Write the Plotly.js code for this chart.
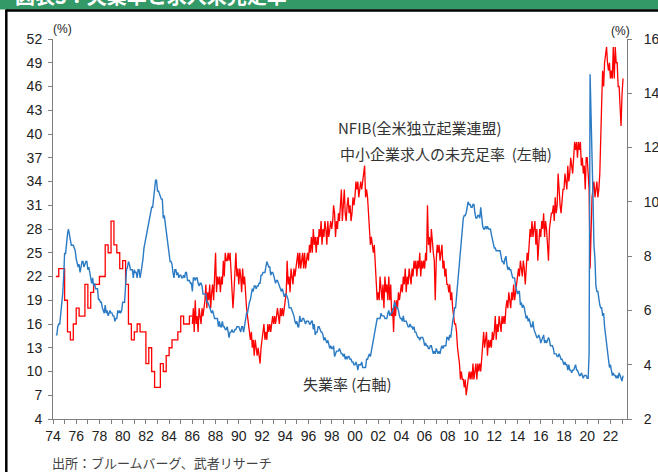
<!DOCTYPE html>
<html>
<head>
<meta charset="utf-8">
<script src="https://cdn.plot.ly/plotly-3.0.1.min.js"></script>
<style>
html,body{margin:0;padding:0;background:#fff;}
#chart{width:658px;height:472px;}
</style>
</head>
<body>
<div id="chart"></div>
<script>
// ---------- DATA ----------
// NFIB: share of small firms with unfilled job openings (%), left axis
// Quarterly, 1974-Q2 .. 1985-Q4
const nfibQuarterlyStart = [1974, 4];
const nfibQuarterly = [
  22,23,23,
  19,15,14,16,
  18,17,17,21,
  18,20,21,21,
  22,22,26,25,
  29,26,25,23,
  24,21,16,14,
  15,16,15,15,
  11,13,10,8,
  8,11,10,12,
  13,14,14,15,
  17,16,16,17
];
// Monthly, 1986-01 .. 2023-02
const nfibMonthlyStart = [1986, 1];
const nfibMonthly = [
  16,18,15,19,16,17,15,18,17,16,18,17, // 1986
  18,19,21,18,20,19,21,18,20,21,19,22, // 1987
  25,20,22,21,22,20,22,21,24,22,25,24, // 1988
  24,25,24,25,22,19,18,20,23,25,22,23, // 1989
  21,23,22,20,23,21,22,19,18,17,16,15, // 1990
  14,15,13,14,12,14,13,12,13,12,11,13, // 1991
  14,15,16,14,15,14,16,15,16,15,16,17, // 1992
  16,17,16,17,18,17,16,18,17,18,17,18, // 1993
  19,20,24,21,22,20,23,22,21,23,22,23, // 1994
  24,25,23,25,23,24,25,23,25,23,24,25, // 1995
  24,26,25,27,25,28,26,27,25,27,26,28, // 1996
  27,29,26,28,27,29,28,26,29,27,28,29, // 1997
  28,29,31,30,27,29,28,30,29,31,33,29, // 1998
  32,33,30,29,31,32,30,31,29,30,32,31, // 1999
  32,34,33,34,32,33,34,33,34,35,36,32, // 2000
  33,32,30,27,26,27,26,25,26,23,20,19, // 2001
  20,19,22,20,19,21,18,22,20,21,19,22, // 2002
  19,21,17,18,15,19,17,19,18,20,19,20, // 2003
  21,20,22,21,23,20,22,21,23,22,21,23, // 2004
  22,24,23,24,22,24,23,25,22,24,23,24, // 2005
  23,25,24,31,26,27,25,28,26,25,24,19, // 2006
  24,26,25,26,24,25,26,23,24,22,23,21, // 2007
  21,20,21,19,20,18,17,16,16,15,13,12, // 2008
  11,9,10,9,9,8,9,7,8,9,10,9,          // 2009
  10,9,11,9,10,11,9,11,10,11,10,12,    // 2010
  13,15,13,14,15,12,14,13,14,13,15,14, // 2011
  15,17,14,16,15,17,16,15,17,16,17,16, // 2012
  18,19,18,20,19,18,20,19,21,19,20,21, // 2013
  22,23,22,24,23,22,24,23,21,24,25,24, // 2014
  26,28,27,29,27,28,29,26,28,24,27,28, // 2015
  27,29,28,30,27,29,28,26,24,28,29,30, // 2016
  30,31,29,32,30,31,35,32,31,30,32,33, // 2017
  33,35,34,33,36,34,35,37,36,35,37,39, // 2018
  38,39,37,39,38,39,36,37,35,36,33,37, // 2019
  37,35,33,23,28,32,33,34,32,33,34,32, // 2020
  33,35,42,44,48,46,49,50,51,49,48,49, // 2021
  47,48,47,51,47,51,49,49,46,46,44,41, // 2022
  45,47                                // 2023
];
// US unemployment rate (%), right axis, monthly 1974-04 .. 2023-02
const unempStart = [1974, 4];
const unemp = [
  5.1,5.1,5.4,5.5,5.5,5.9,6.0,6.6,7.2,                 // 1974
  8.1,8.1,8.6,8.8,9.0,8.8,8.6,8.4,8.4,8.4,8.3,8.2,     // 1975
  7.9,7.7,7.6,7.7,7.4,7.6,7.8,7.8,7.6,7.7,7.8,7.8,     // 1976
  7.5,7.6,7.4,7.2,7.0,7.2,6.9,7.0,6.8,6.8,6.8,6.4,     // 1977
  6.4,6.3,6.3,6.1,6.0,5.9,6.2,5.9,6.0,5.8,5.9,6.0,     // 1978
  5.9,5.9,5.8,5.8,5.6,5.7,5.7,6.0,5.9,6.0,5.9,6.0,     // 1979
  6.3,6.3,6.3,6.9,7.5,7.6,7.8,7.7,7.5,7.5,7.5,7.2,     // 1980
  7.5,7.4,7.4,7.2,7.5,7.5,7.2,7.4,7.6,7.9,8.3,8.5,     // 1981
  8.6,8.9,9.0,9.3,9.4,9.6,9.8,9.8,10.1,10.4,10.8,10.8, // 1982
  10.4,10.4,10.3,10.2,10.1,10.1,9.4,9.5,9.2,8.8,8.5,8.3, // 1983
  8.0,7.8,7.8,7.7,7.4,7.2,7.5,7.5,7.3,7.4,7.2,7.3,     // 1984
  7.3,7.2,7.2,7.3,7.2,7.4,7.4,7.1,7.1,7.1,7.0,7.0,     // 1985
  6.7,7.2,7.2,7.1,7.2,7.2,7.0,6.9,7.0,7.0,6.9,6.6,     // 1986
  6.6,6.6,6.6,6.3,6.3,6.2,6.1,6.0,5.9,6.0,5.8,5.7,     // 1987
  5.7,5.7,5.7,5.4,5.6,5.4,5.4,5.6,5.4,5.4,5.3,5.3,     // 1988
  5.4,5.2,5.0,5.2,5.2,5.3,5.2,5.2,5.3,5.3,5.4,5.4,     // 1989
  5.4,5.3,5.2,5.4,5.4,5.2,5.5,5.7,5.9,5.9,6.2,6.3,     // 1990
  6.4,6.6,6.8,6.7,6.9,6.9,6.8,6.9,6.9,7.0,7.0,7.3,     // 1991
  7.3,7.4,7.4,7.4,7.6,7.8,7.7,7.6,7.6,7.3,7.4,7.4,     // 1992
  7.3,7.1,7.0,7.1,7.1,7.0,6.9,6.8,6.7,6.8,6.6,6.5,     // 1993
  6.6,6.6,6.5,6.4,6.1,6.1,6.1,6.0,5.9,5.8,5.6,5.5,     // 1994
  5.6,5.4,5.4,5.8,5.6,5.6,5.7,5.7,5.6,5.5,5.6,5.6,     // 1995
  5.6,5.5,5.5,5.6,5.6,5.3,5.5,5.1,5.2,5.2,5.4,5.4,     // 1996
  5.3,5.2,5.2,5.1,4.9,5.0,4.9,4.8,4.9,4.7,4.6,4.7,     // 1997
  4.6,4.6,4.7,4.3,4.4,4.5,4.5,4.5,4.6,4.5,4.4,4.4,     // 1998
  4.3,4.4,4.2,4.3,4.2,4.3,4.3,4.2,4.2,4.1,4.1,4.0,     // 1999
  4.0,4.1,4.0,3.8,4.0,4.0,4.0,4.1,3.9,3.9,3.9,3.9,     // 2000
  4.2,4.2,4.3,4.4,4.3,4.5,4.6,4.9,5.0,5.3,5.5,5.7,     // 2001
  5.7,5.7,5.7,5.9,5.8,5.8,5.8,5.7,5.7,5.7,5.9,6.0,     // 2002
  5.8,5.9,5.9,6.0,6.1,6.3,6.2,6.1,6.1,6.0,5.8,5.7,     // 2003
  5.7,5.6,5.8,5.6,5.6,5.6,5.5,5.4,5.4,5.5,5.4,5.4,     // 2004
  5.3,5.4,5.2,5.2,5.1,5.0,5.0,4.9,5.0,5.0,5.0,4.9,     // 2005
  4.7,4.8,4.7,4.7,4.6,4.6,4.7,4.7,4.5,4.4,4.5,4.4,     // 2006
  4.6,4.5,4.4,4.5,4.4,4.6,4.7,4.6,4.7,4.7,4.7,5.0,     // 2007
  5.0,4.9,5.1,5.0,5.4,5.6,5.8,6.1,6.1,6.5,6.8,7.3,     // 2008
  7.8,8.3,8.7,9.0,9.4,9.5,9.5,9.6,9.8,10.0,9.9,9.9,    // 2009
  9.8,9.8,9.9,9.9,9.6,9.4,9.4,9.5,9.5,9.4,9.8,9.3,     // 2010
  9.1,9.0,9.0,9.1,9.0,9.1,9.0,9.0,9.0,8.8,8.6,8.5,     // 2011
  8.3,8.3,8.2,8.2,8.2,8.2,8.2,8.0,7.8,7.8,7.7,7.9,     // 2012
  8.0,7.7,7.5,7.6,7.5,7.5,7.3,7.2,7.2,7.2,6.9,6.7,     // 2013
  6.6,6.7,6.7,6.2,6.3,6.1,6.2,6.1,5.9,5.7,5.8,5.6,     // 2014
  5.7,5.5,5.4,5.4,5.6,5.3,5.2,5.1,5.0,5.0,5.1,5.0,     // 2015
  4.8,4.9,5.0,5.1,4.8,4.9,4.8,4.9,5.0,4.9,4.7,4.7,     // 2016
  4.7,4.6,4.4,4.4,4.4,4.3,4.3,4.4,4.3,4.2,4.2,4.1,     // 2017
  4.0,4.1,4.0,4.0,3.8,4.0,3.8,3.8,3.7,3.8,3.8,3.9,     // 2018
  4.0,3.8,3.8,3.7,3.6,3.6,3.7,3.6,3.5,3.6,3.6,3.6,     // 2019
  3.5,3.5,4.4,14.7,13.2,11.0,10.2,8.4,7.9,6.9,6.7,6.7, // 2020
  6.4,6.2,6.1,6.1,5.8,5.9,5.4,5.1,4.7,4.5,4.2,3.9,     // 2021
  4.0,3.8,3.6,3.7,3.6,3.6,3.5,3.6,3.5,3.7,3.6,3.5,     // 2022
  3.4,3.6                                              // 2023
];
// Axis tick settings / texts
const xTickFormat = '%y';
const leftRange = [4, 52];
const rightRange = [2, 16];
const labelNfib1 = 'NFIB(全米独立起業連盟)';
const labelNfib2 = '中小企業求人の未充足率&nbsp;&nbsp;(左軸)';
const labelUnemp = '失業率 (右軸)';
const sourceText = '出所：ブルームバーグ、武者リサーチ';
const headerText = '図表3：失業率と求人未充足率';

// ---------- HELPERS ----------
function dates(start, n, stepMonths) {
  const out = [];
  let y = start[0], m = start[1];
  for (let i = 0; i < n; i++) {
    out.push(y + '-' + String(m).padStart(2, '0') + '-01');
    m += stepMonths;
    while (m > 12) { m -= 12; y += 1; }
  }
  return out;
}

const W = 658, H = 472;
const M = {l: 53, r: 31, t: 39, b: 53};
const PW = W - M.l - M.r, PH = H - M.t - M.b;
const px = x => (x - M.l) / PW;
const py = y => (H - M.b - y) / PH;

const FONT = 'Liberation Sans, Arial, "Noto Sans CJK JP", sans-serif';
const CJK = '"Noto Sans CJK JP", "Liberation Sans", sans-serif';
const axisCol = '#7f7f7f';
const txtCol = '#222222';
const red = '#ff0000';
const blue = '#2b7bc4';

const traces = [
  {
    x: dates(unempStart, unemp.length, 1), y: unemp, yaxis: 'y2',
    type: 'scatter', mode: 'lines', line: {color: blue, width: 1.4}, hoverinfo: 'skip'
  },
  {
    x: dates(nfibQuarterlyStart, nfibQuarterly.length, 3).concat(['1986-01-01']),
    y: nfibQuarterly.concat([nfibQuarterly[nfibQuarterly.length - 1]]),
    type: 'scatter', mode: 'lines', line: {color: red, width: 1.3, shape: 'hv'}, hoverinfo: 'skip'
  },
  {
    x: dates(nfibMonthlyStart, nfibMonthly.length, 1), y: nfibMonthly,
    type: 'scatter', mode: 'lines', line: {color: red, width: 1.3}, hoverinfo: 'skip'
  }
];

const axisCommon = {
  showgrid: false, zeroline: false, showline: true, linecolor: axisCol, linewidth: 1,
  ticks: 'outside', ticklen: 4, tickcolor: axisCol, tickwidth: 1,
  tickfont: {family: FONT, size: 14, color: txtCol}, fixedrange: true
};

const layout = {
  width: W, height: H,
  margin: M,
  paper_bgcolor: '#ffffff', plot_bgcolor: '#ffffff',
  showlegend: false,
  font: {family: FONT, size: 14, color: txtCol},
  xaxis: Object.assign({}, axisCommon, {
    type: 'date', range: ['1974-01-01', '2023-06-06'],
    tick0: '1974-01-01', dtick: 'M24', tickformat: xTickFormat,
    minor: {dtick: 'M12', tick0: '1974-01-01', ticks: 'outside', ticklen: 4, tickcolor: axisCol, showgrid: false},
    ticklabelstandoff: 0
  }),
  yaxis: Object.assign({}, axisCommon, {
    range: leftRange, tick0: 4, dtick: 3, ticklabelstandoff: 3
  }),
  yaxis2: Object.assign({}, axisCommon, {
    range: rightRange, tick0: 2, dtick: 2, overlaying: 'y', side: 'right', ticklabelstandoff: 9
  }),
  shapes: [
    {type: 'rect', xref: 'paper', yref: 'paper', x0: px(0), x1: px(W), y0: py(9.5), y1: py(-2),
     fillcolor: '#339966', line: {width: 0}, layer: 'below'},
    {type: 'line', xref: 'paper', yref: 'paper', x0: px(6), x1: px(W), y0: py(10.5), y1: py(10.5),
     line: {color: '#000000', width: 2.5}},
    {type: 'line', xref: 'paper', yref: 'paper', x0: px(6.3), x1: px(6.3), y0: py(9.5), y1: py(H + 2),
     line: {color: '#000000', width: 2.5}}
  ],
  annotations: [
    {xref: 'paper', yref: 'paper', x: px(13), y: py(-4), xanchor: 'left', yanchor: 'middle',
     text: '<b>' + headerText + '</b>', showarrow: false, font: {family: CJK, size: 20, color: '#ffffff'}},
    {xref: 'paper', yref: 'paper', x: px(336), y: py(127), xanchor: 'left', yanchor: 'middle',
     text: labelNfib1, showarrow: false, font: {family: CJK, size: 15, color: '#333333'}},
    {xref: 'paper', yref: 'paper', x: px(338), y: py(153), xanchor: 'left', yanchor: 'middle',
     text: labelNfib2, showarrow: false, font: {family: CJK, size: 15, color: '#333333'}},
    {xref: 'paper', yref: 'paper', x: px(301), y: py(383), xanchor: 'left', yanchor: 'middle',
     text: labelUnemp, showarrow: false, font: {family: CJK, size: 15, color: '#333333'}},
    {xref: 'paper', yref: 'paper', x: px(51), y: py(29), xanchor: 'left', yanchor: 'middle',
     text: '(%)', showarrow: false, font: {family: FONT, size: 12, color: txtCol}},
    {xref: 'paper', yref: 'paper', x: px(609), y: py(31), xanchor: 'left', yanchor: 'middle',
     text: '(%)', showarrow: false, font: {family: FONT, size: 12, color: txtCol}},
    {xref: 'paper', yref: 'paper', x: px(50), y: py(462), xanchor: 'left', yanchor: 'middle',
     text: sourceText, showarrow: false, font: {family: CJK, size: 13, color: '#444444'}}
  ]
};

Plotly.newPlot('chart', traces, layout, {staticPlot: true, displayModeBar: false});
</script>
</body>
</html>
